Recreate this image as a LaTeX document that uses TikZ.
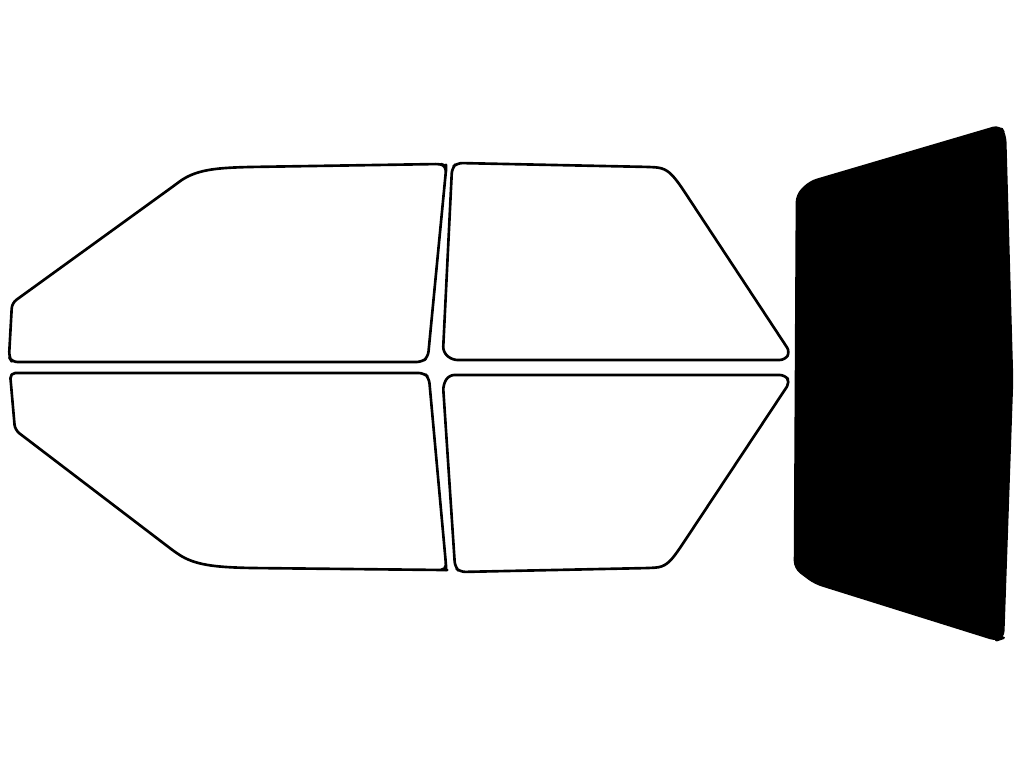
\documentclass[tikz,border=0pt]{standalone}
\begin{document}
\begin{tikzpicture}[x=0.01cm,y=-0.01cm,win/.style={draw=black,line width=0.75pt,line join=round,fill=white}]
\useasboundingbox (0,0) rectangle (1024,768);
\draw[win,rounded corners=1.5pt] (12,303) -- (175,185) .. controls (195,170) and (215,168) .. (250,167) -- (441,164) -- (446,166) -- (446,170) -- (428,357) -- (422,362) -- (12,362) -- (9,357) -- cycle;
\draw[win,rounded corners=1.5pt] (10,373) -- (424,373) -- (429,378) -- (446,565) -- (446,570) -- (442,570) -- (250,568) .. controls (215,567) and (195,565) .. (175,552) -- (15,430) -- cycle;
\draw[win,rounded corners=1.5pt] (457,163) -- (650,167) .. controls (665,168) and (670,172) .. (680,185) -- (790,352) -- (785,360) -- (452,360) -- (443,352) -- (452,168) -- cycle;
\draw[win,rounded corners=1.5pt] (449,375) -- (785,375) -- (790,382) -- (680,548) .. controls (670,562) and (665,567) .. (650,568) -- (460,572) -- (455,567) -- (443,385) -- cycle;
\draw[line width=0.75pt,fill=black,line join=round,rounded corners=2pt] (810,182) -- (1000,126) -- (1005,135) -- (1012,380) -- (1003,638) -- (997,640) -- (815,583) -- (795,568) -- (797,195) -- cycle;
\end{tikzpicture}
\end{document}
